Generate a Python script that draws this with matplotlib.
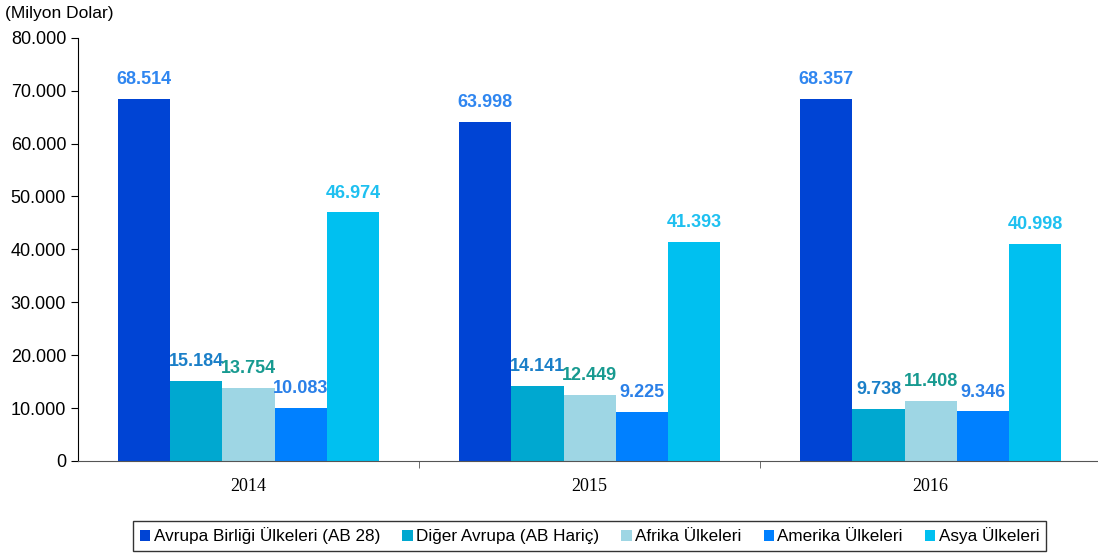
import numpy as np
import matplotlib.pyplot as plt
from matplotlib.ticker import FuncFormatter

years = ["2014", "2015", "2016"]
series = ["Avrupa Birliği Ülkeleri (AB 28)", "Diğer Avrupa (AB Hariç)",
          "Afrika Ülkeleri", "Amerika Ülkeleri", "Asya Ülkeleri"]
ab28 = [68514, 63998, 68357]
diger_avrupa = [15184, 14141, 9738]
afrika = [13754, 12449, 11408]
amerika = [10083, 9225, 9346]
asya = [46974, 41393, 40998]

values = [ab28, diger_avrupa, afrika, amerika, asya]
bar_colors = ["#0044d4", "#00a8d0", "#9ed6e4", "#0080ff", "#00c0f0"]
label_colors = ["#2f86f0", "#1a7fc8", "#179a90", "#2a80e8", "#1ec0f0"]

plt.rcParams["font.family"] = ["Liberation Sans", "DejaVu Sans"]

fig = plt.figure(figsize=(10.98, 5.56), dpi=100)
ax = fig.add_axes([0.071, 0.171, 0.932, 0.761])

x = np.arange(len(years))
w = 0.153
for i, (vals, c, lc) in enumerate(zip(values, bar_colors, label_colors)):
    pos = x + (i - 2) * w
    ax.bar(pos, vals, width=w, color=c, label=series[i], edgecolor="none")
    for p, v in zip(pos, vals):
        ax.annotate(f"{v:,}".replace(",", "."), (p, v), xytext=(0, 14),
                    textcoords="offset points", ha="center", va="center",
                    color=lc, fontsize=13, fontweight="bold")

ax.set_xlim(-0.5, 2.5)
ax.set_ylim(0, 80000)
ax.set_yticks(np.arange(0, 80001, 10000))
ax.yaxis.set_major_formatter(FuncFormatter(lambda v, _: f"{int(v):,}".replace(",", ".")))
ax.tick_params(axis="y", labelsize=13, length=5, direction="out")

ax.set_xticks(x)
ax.set_xticklabels(years, family=["Liberation Serif", "DejaVu Serif"], fontsize=13)
ax.tick_params(axis="x", length=0, pad=12)
ax.set_xticks([0.5, 1.5, 2.5], minor=True)
ax.tick_params(axis="x", which="minor", length=5, color="#555555")

ax.spines["top"].set_visible(False)
ax.spines["right"].set_visible(False)
ax.spines["bottom"].set_color("#555555")

fig.text(0.005, 0.975, "(Milyon Dolar)", fontsize=12.5, ha="left", va="center")

leg = fig.legend(loc="center", bbox_to_anchor=(0.537, 0.966 - 0.93), ncol=5, fontsize=12.3,
                 frameon=True, fancybox=False, edgecolor="black", handlelength=0.6,
                 handleheight=0.6, handletextpad=0.2, columnspacing=1.3, borderpad=0.4)
leg.get_frame().set_linewidth(1)

fig.savefig("out.png", dpi=100)
